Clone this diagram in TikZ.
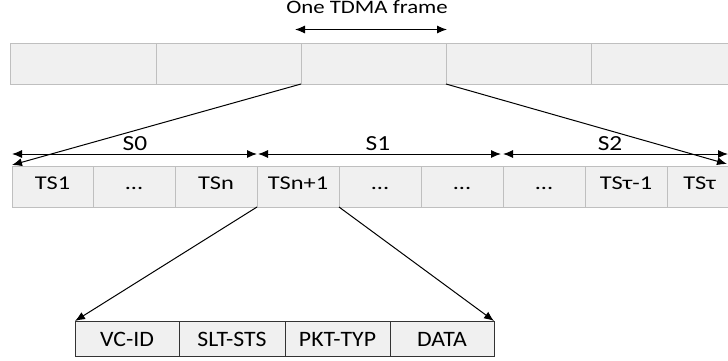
\documentclass[tikz,border=0pt]{standalone}
\usepackage{fontspec}
\setmainfont{Carlito}
\usetikzlibrary{arrows.meta}
\definecolor{cellfill}{HTML}{F0F0F0}
\definecolor{cellline}{HTML}{BFBFBF}
\newcommand\tdotz{...}
\begin{document}
\begin{tikzpicture}[x=1pt,y=-1pt,
  cell/.style={draw=cellline,fill=cellfill,line width=1pt},
  fcell/.style={draw=black!80,fill=cellfill,line width=1pt},
  tslbl/.style={font=\fontsize{19.5}{20}\selectfont,inner sep=0pt,anchor=base,xscale=1.25},
  slbl/.style={font=\fontsize{21.5}{22}\selectfont,inner sep=0pt,anchor=base,xscale=1.18},
  plbl/.style={font=\fontsize{22}{22}\selectfont,inner sep=0pt,anchor=base,xscale=1.08},
  tip/.tip={Latex[length=10pt,width=8pt]},
  arr/.style={-tip,line width=1pt},
  darr/.style={tip-tip,line width=1pt}]
\useasboundingbox (0,0) rectangle (728,360);
% top frame row
\foreach \i/\a/\b in {1/10/156,2/156/301,3/301/446,4/446/591,5/591/732}
  \path[cell] (\a,43) rectangle (\b,84) coordinate (f\i);
\coordinate (fL) at (301,84);
\coordinate (fR) at (446,84);
\node[font=\fontsize{19}{19}\selectfont,inner sep=0pt,anchor=base,xscale=1.2] (title) at (367,13.3) {One TDMA frame};
\coordinate (ta) at (295,29.5);
\coordinate (tb) at (447,29.5);
\draw[darr] (ta) -- (tb);
% slot row
\foreach \i/\a/\b/\t in {1/12/93/TS1,2/93/175/\tdotz,3/175/257/TSn,4/257/339/TSn+1,5/339/421/\tdotz,6/421/503/\tdotz,7/503/585/\tdotz,8/585/667/TSτ-1,9/667/732/TSτ}
  {\path[cell] (\a,166) rectangle (\b,207);
   \node[tslbl] (ts\i) at ({(\a+\b)/2},189) {\t};}
% segment arrows
\coordinate (s0a) at (12,154);
\coordinate (s0b) at (257,154);
\coordinate (s1a) at (258,154);
\coordinate (s1b) at (501,154);
\coordinate (s2a) at (503,154);
\coordinate (s2b) at (728,154);
\draw[darr] (s0a) -- (s0b);
\draw[darr] (s1a) -- (s1b);
\draw[darr] (s2a) -- (s2b);
\node[slbl] (S0) at (135,150.7) {S0};
\node[slbl] (S1) at (378,150.7) {S1};
\node[slbl] (S2) at (610,150.7) {S2};
% zoom lines from frame
\coordinate (z1) at (12,165);
\coordinate (z2) at (727,164);
\draw[arr] (fL) -- (z1);
\draw[arr] (fR) -- (z2);
% packet fields
\foreach \i/\a/\b/\t in {1/75/179/VC-ID,2/179/285/SLT-STS,3/285/390/PKT-TYP,4/390/494/DATA}
  {\path[fcell] (\a,321) rectangle (\b,356);
   \node[plbl] (p\i) at ({(\a+\b)/2},346) {\t};}
\coordinate (pa) at (257,207);
\coordinate (pb) at (339,207);
\coordinate (pL) at (75,321);
\coordinate (pR) at (494,321);
\draw[arr] (pa) -- (pL);
\draw[arr] (pb) -- (pR);
\end{tikzpicture}
\end{document}
